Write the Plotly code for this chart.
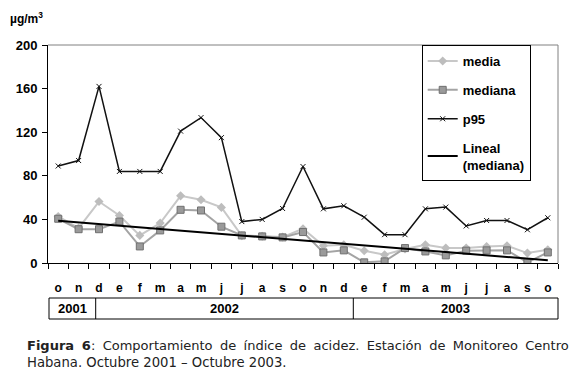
import numpy as np
import plotly.graph_objects as go

months = ["o", "n", "d", "e", "f", "m", "a", "m", "j", "j", "a", "s",
          "o", "n", "d", "e", "f", "m", "a", "m", "j", "j", "a", "s", "o"]
years = ["2001", "2002", "2003"]

media = [42.7, 32, 56.4, 43.6, 25.3, 36.6, 61.6, 58, 51, 25, 24.5, 23.8,
         31.4, 15.8, 16.7, 11.3, 7.6, 12.8, 16.7, 13.7, 13.7, 15.2, 15.8, 9.1, 12.2]
mediana = [40.6, 31, 31, 38, 15.2, 29.9, 48.8, 48.2, 33.3, 25.3, 24.4, 23.5,
           28.4, 9.7, 11.6, 0.6, 1.5, 13.7, 10.6, 7, 11.3, 11.6, 11.6, 0.6, 9.7]
p95 = [89, 94, 162, 84, 84, 84, 121, 133.4, 115, 38, 40, 50,
       88.5, 49.7, 52.5, 42, 26, 26, 49.7, 51.3, 34, 39, 39, 30.5, 41.5]

caption_line1 = ("<b>Figura 6</b>: Comportamiento de índice de acidez. "
                 "Estación de Monitoreo Centro")
caption_line2 = "Habana. Octubre 2001 – Octubre 2003."

x = np.arange(len(months))
coef = np.polyfit(x, mediana, 1)
lineal = np.polyval(coef, x)

FB = "Liberation Sans"
fig = go.Figure()
fig.add_trace(go.Scatter(x=x, y=media, name="<b>media</b>", mode="lines+markers",
                         line=dict(color="#c8c8c8", width=2),
                         marker=dict(symbol="diamond", size=7, color="#bdbdbd"),
                         legendgroup="a"))
fig.add_trace(go.Scatter(x=x, y=mediana, name="<b>mediana</b>", mode="lines+markers",
                         line=dict(color="#a4a4a4", width=2),
                         marker=dict(symbol="square", size=7, color="#9a9a9a",
                                     line=dict(color="#707070", width=1)),
                         legendgroup="b"))
fig.add_trace(go.Scatter(x=x, y=p95, name="<b>p95</b>", mode="lines+markers",
                         line=dict(color="#111111", width=1.5),
                         marker=dict(symbol="x-thin", size=5, color="#111111",
                                     line=dict(color="#111111", width=1)),
                         legendgroup="c"))
fig.add_trace(go.Scatter(x=x, y=lineal, name="<b>Lineal<br>(mediana)</b>", mode="lines",
                         line=dict(color="#000000", width=2),
                         legendgroup="d"))

L, R = 48, 558
def px(v):
    return (v - L) / (R - L)
def py(v):
    return (263 - v) / 218

shapes = [
    dict(type="line", xref="paper", yref="paper", x0=0, x1=1, y0=1, y1=1,
         line=dict(color="#808080", width=1)),
    dict(type="line", xref="paper", yref="paper", x0=1, x1=1, y0=0, y1=1,
         line=dict(color="#808080", width=1)),
    dict(type="rect", xref="paper", yref="paper", x0=px(49), x1=px(558),
         y0=py(319), y1=py(298), line=dict(color="black", width=1)),
    dict(type="line", xref="paper", yref="paper", x0=px(95.7), x1=px(95.7),
         y0=py(319), y1=py(298), line=dict(color="black", width=1)),
    dict(type="line", xref="paper", yref="paper", x0=px(353.3), x1=px(353.3),
         y0=py(319), y1=py(298), line=dict(color="black", width=1)),
]
year_centers = [72, 224, 455]
annotations = []
for yr, cx in zip(years, year_centers):
    annotations.append(dict(text="<b>%s</b>" % yr, xref="paper", yref="paper",
                            x=px(cx), y=py(308.5), showarrow=False,
                            xanchor="center", yanchor="middle",
                            font=dict(family=FB, size=13, color="black")))
annotations.append(dict(text="<b>µg/m<sup>3</sup></b>", xref="paper", yref="paper",
                        x=px(8), y=py(18), showarrow=False, xanchor="left",
                        yanchor="middle", font=dict(family=FB, size=12, color="black")))
# justified first line: widen each word gap with a four-per-em space
line1_justified = caption_line1.replace(" ", " \u2005")
cap_font = dict(family="DejaVu Sans", size=13, color="#222222")
annotations.append(dict(text=line1_justified, xref="paper", yref="paper", x=px(26), y=py(345),
                        showarrow=False, xanchor="left", yanchor="middle",
                        font=cap_font, borderpad=0))
annotations.append(dict(text=caption_line2, xref="paper", yref="paper", x=px(26), y=py(362),
                        showarrow=False, xanchor="left", yanchor="middle",
                        font=dict(family="DejaVu Sans", size=13.2, color="#222222"),
                        borderpad=0))

fig.update_layout(
    width=577, height=386,
    margin=dict(l=48, r=19, t=45, b=123),
    paper_bgcolor="white", plot_bgcolor="white",
    showlegend=True,
    legend=dict(x=px(421.7), y=1, xanchor="left", yanchor="top",
                bordercolor="black", borderwidth=1, bgcolor="white",
                font=dict(family=FB, size=13, color="black"),
                tracegroupgap=9, itemwidth=30),
    shapes=shapes, annotations=annotations,
    xaxis=dict(range=[-0.5, 24.5], tickmode="array", tickvals=list(x),
               ticktext=["<b>%s</b>" % m for m in months], ticks="",
               tickfont=dict(family=FB, size=12, color="black"),
               showgrid=False, zeroline=False, showline=True, linecolor="black",
               linewidth=1, ticklabelstandoff=14,
               minor=dict(tickmode="linear", tick0=-0.5, dtick=1, ticks="outside",
                          ticklen=5, tickcolor="black", showgrid=False)),
    yaxis=dict(range=[0, 200], tickmode="linear", tick0=0, dtick=40,
               ticks="outside", ticklen=5, tickcolor="black",
               tickfont=dict(family=FB, size=13, color="black"),
               showgrid=False, zeroline=False, showline=True, linecolor="black",
               linewidth=1, ticklabelstandoff=2,
               tickprefix="<b>", ticksuffix="</b>"),
)
fig.write_html("out.html", config={"displayModeBar": False})

with open("out.html", encoding="utf-8") as f:
    html = f.read()
html = html.replace("<body>", '<body style="margin:0;padding:0;overflow:hidden">', 1)
with open("out.html", "w", encoding="utf-8") as f:
    f.write(html)
